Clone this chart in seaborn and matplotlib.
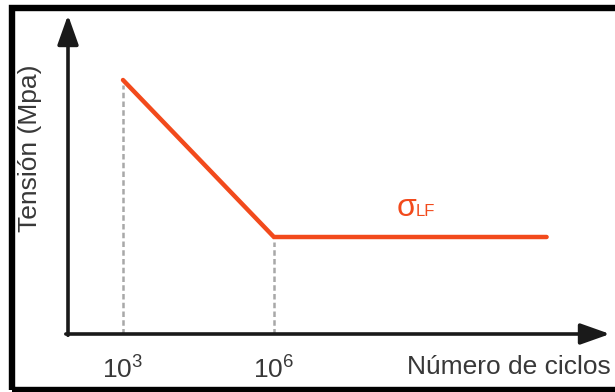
import matplotlib
matplotlib.use("Agg")
import matplotlib.pyplot as plt
import seaborn as sns
import pandas as pd
from matplotlib.patches import Rectangle

# ---- data (x as log10 of cycles, y as stress in arbitrary units) ----
log_cycles = [3.0, 6.0, 11.42]
stress = [254, 97, 97]
tick_pos = [3.0, 6.0]
tick_labels = ["$10^3$", "$10^6$"]
x_label = "Número de ciclos"
y_label = "Tensión (Mpa)"

sns.set_theme(style="white")
plt.rcParams["font.family"] = ["Liberation Sans", "DejaVu Sans"]
plt.rcParams["mathtext.fontset"] = "custom"
plt.rcParams["mathtext.rm"] = "Liberation Sans"
plt.rcParams["mathtext.it"] = "Liberation Sans:italic"

W, H = 615, 392
fig = plt.figure(figsize=(W / 100, H / 100), dpi=100)
fig.patch.set_facecolor("white")
ax = fig.add_axes([68 / W, (H - 334) / H, (610 - 68) / W, (334 - 15) / H])
ax.set_facecolor("white")

x0, x1 = 1.907, 12.68
ax.set_xlim(x0, x1)
ax.set_ylim(0, 319)

red = "#f24a1c"
text_col = "#383838"

df = pd.DataFrame({"log_cycles": log_cycles, "stress": stress})
sns.lineplot(data=df, x="log_cycles", y="stress", ax=ax, color=red, lw=3.2,
             sort=False, solid_joinstyle="miter", zorder=3)

# dashed guide lines
for xp, yp in zip(log_cycles[:2], stress[:2]):
    ax.plot([xp, xp], [0, yp - 5], color="#a8a8a8", lw=1.8,
            dashes=(2.2, 1.3), zorder=2)

for s in ax.spines.values():
    s.set_visible(False)

axis_col = "#1a1a1a"
arrow_kw = dict(arrowstyle="-|>,head_length=0.9,head_width=0.32", lw=2.6,
                color=axis_col, mutation_scale=20, shrinkA=0, shrinkB=0)
ax.annotate("", xy=(0, 1), xytext=(0, -0.004), xycoords="axes fraction",
            arrowprops=arrow_kw, annotation_clip=False)
ax.annotate("", xy=(1, 0), xytext=(-0.004, 0), xycoords="axes fraction",
            arrowprops=arrow_kw, annotation_clip=False)

ax.set_xticks(tick_pos)
ax.set_xticklabels(tick_labels, fontsize=19, color=text_col)
ax.tick_params(axis="x", length=0, pad=16)
ax.set_yticks([])
ax.set_xlabel("")
ax.set_ylabel("")

fig.text(407 / W, 1 - 367 / H, x_label, ha="left", va="center",
         fontsize=19, color=text_col)
fig.text(30 / W, 1 - 148 / H, y_label, ha="center", va="center",
         rotation=90, fontsize=19, color=text_col)

# sigma LF label
fig.text(397 / W, 1 - 216 / H, "σ", ha="left", va="baseline",
         fontsize=23, color=red)
fig.text(416 / W, 1 - 216 / H, "LF", ha="left", va="baseline",
         fontsize=12, color=red)

# outer black frame
frame = Rectangle((12 / W, (H - 390) / H), (640 - 12) / W, (390 - 7.5) / H,
                  transform=fig.transFigure, fill=False, edgecolor="black",
                  lw=4.6, clip_on=False)
fig.patches.append(frame)

fig.savefig("out.png", dpi=100, facecolor="white")
